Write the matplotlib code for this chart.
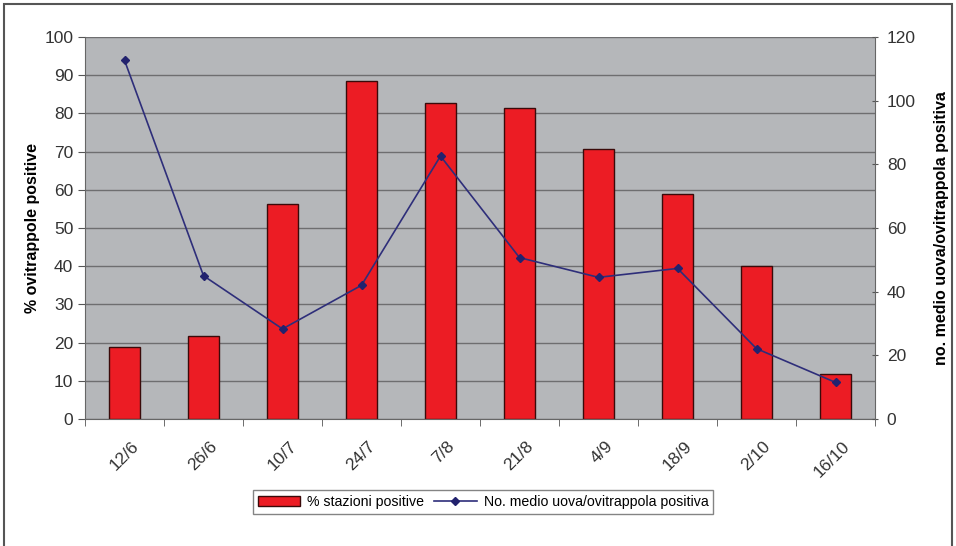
import matplotlib
matplotlib.use("Agg")
from matplotlib import pyplot as plt
from matplotlib.patches import Rectangle
import numpy as np

plt.rcParams['font.family'] = ['Liberation Sans', 'DejaVu Sans']

dates = ['12/6', '26/6', '10/7', '24/7', '7/8', '21/8', '4/9', '18/9', '2/10', '16/10']
stazioni_pos = [18.8, 21.6, 56.3, 88.4, 82.7, 81.3, 70.8, 58.9, 40.1, 11.8]
uova_medio = [112.7, 45.0, 28.3, 42.0, 82.6, 50.7, 44.5, 47.3, 22.1, 11.5]

fig = plt.figure(figsize=(9.56, 5.46), dpi=100)
ax = fig.add_axes([85 / 956, 1 - 419 / 546, 790 / 956, 382 / 546])
ax.set_facecolor('#b5b7ba')

x = np.arange(len(dates))
# griglia orizzontale
ax.set_axisbelow(True)
ax.yaxis.grid(True, color='#6e6e70', linewidth=1.0)
bars = ax.bar(x, stazioni_pos, width=0.4, color='#ec1c24', edgecolor='#3a0a0a',
              linewidth=1.0, label='% stazioni positive', zorder=2)

ax.set_xlim(-0.5, len(dates) - 0.5)
ax.set_ylim(0, 100)
ax.set_yticks(range(0, 101, 10))
# etichette leggermente spostate a destra come nell'originale
ax.set_xticks(x + 0.08)
ax.set_xticklabels(dates, rotation=45, fontsize=12.5, color='#333333',
                   ha='right', rotation_mode='anchor')
ax.set_xticks(np.arange(-0.5, len(dates), 1), minor=True)
ax.tick_params(axis='x', which='major', length=0, pad=14)
ax.tick_params(axis='x', which='minor', length=5, direction='out', color='#555555')
ax.tick_params(axis='y', labelsize=12.5, labelcolor='#333333', length=5, color='#555555')
ax.set_ylabel('% ovitrappole positive', fontsize=11.5, fontweight='bold', labelpad=3)
for s in ['top', 'right']:
    ax.spines[s].set_visible(False)
ax.spines['left'].set_color('#666666')
ax.spines['bottom'].set_color('#666666')

ax2 = ax.twinx()
line, = ax2.plot(x, uova_medio, color='#2e2e7a', linewidth=1.2, marker='D', markersize=4.5,
                 markerfacecolor='#22226e', markeredgecolor='#22226e',
                 label='No. medio uova/ovitrappola positiva', zorder=3)
ax2.set_ylim(0, 120)
ax2.set_yticks(range(0, 121, 20))
ax2.tick_params(axis='y', labelsize=12.5, labelcolor='#333333', length=5,
                direction='inout', color='#555555', pad=6)
ax2.set_ylabel('no. medio uova/ovitrappola positiva', fontsize=11.5, fontweight='bold',
               labelpad=13)
for s in ['top', 'left', 'bottom']:
    ax2.spines[s].set_visible(False)
ax2.spines['right'].set_color('#666666')

leg = fig.legend([bars, line], ['% stazioni positive', 'No. medio uova/ovitrappola positiva'],
                 loc='center', bbox_to_anchor=(483 / 956, 1 - 502 / 546), ncol=2,
                 fontsize=10.2, frameon=True, fancybox=False, edgecolor='#666666',
                 handlelength=3.0, columnspacing=0.7, borderpad=0.35, handletextpad=0.5)
leg.get_frame().set_linewidth(1.0)

# cornice esterna
fig.patches.append(Rectangle((4 / 956, -0.01), 948 / 956, 1 - 4 / 546 + 0.01,
                             transform=fig.transFigure, fill=False,
                             edgecolor='#555555', linewidth=1.5))

plt.savefig('out.png', dpi=100)
